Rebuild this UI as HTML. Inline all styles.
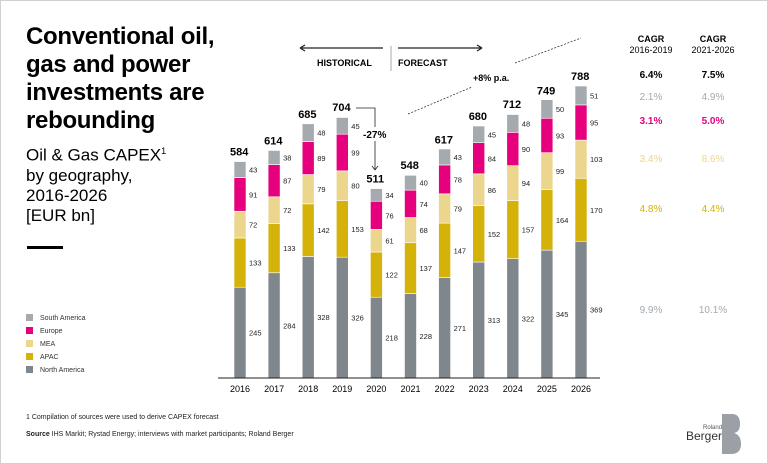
<!DOCTYPE html>
<html><head><meta charset="utf-8"><style>
body{margin:0;width:768px;height:464px;overflow:hidden;background:#fff;font-family:"Liberation Sans",sans-serif}
#frame{position:absolute;left:0;top:0;width:766px;height:462px;border:1px solid #cfd2d4}
.t{position:absolute;white-space:nowrap}
</style></head><body>
<div id="frame"></div>
<div class="t" style="left:26px;top:23px;font-size:24px;font-weight:bold;line-height:28px;letter-spacing:-0.3px;color:#000">Conventional oil,<br>gas and power<br>investments are<br>rebounding</div>
<div class="t" style="left:26px;top:141px;font-size:17px;line-height:20px;color:#000">Oil &amp; Gas CAPEX<sup style="font-size:9px">1</sup><br>by geography,<br>2016-2026<br>[EUR bn]</div>
<div style="position:absolute;left:27px;top:246px;width:36px;height:3px;background:#000"></div>
<svg id="c" width="768" height="464" style="position:absolute;left:0;top:0"></svg>
<div class="t" style="left:26px;top:414px;font-size:7px;color:#222">1 Compilation of sources were used to derive CAPEX forecast</div>
<div class="t" style="left:26px;top:431px;font-size:7px;color:#222"><b>Source</b> IHS Markit; Rystad Energy; interviews with market participants; Roland Berger</div>
<div class="t" style="left:686px;top:424px;font-size:6px;color:#555;text-align:right;line-height:8px">Roland<br><span style="font-size:12px;color:#333">Berger</span></div>
<svg width="20" height="40" style="position:absolute;left:722px;top:414px"><path d="M0 0 H10 Q18 0 18 10 Q18 18 12 19 Q19 21 19 30 Q19 40 9 40 H0 Z" fill="#9aa0a5"/></svg>
<script>
const years=["2016","2017","2018","2019","2020","2021","2022","2023","2024","2025","2026"];
const northAmerica=[245,284,328,326,218,228,271,313,322,345,369];
const apac=[133,133,142,153,122,137,147,152,157,164,170];
const mea=[72,72,79,80,61,68,79,86,94,99,103];
const europe=[91,87,89,99,76,74,78,84,90,93,95];
const southAmerica=[43,38,48,45,34,40,43,45,48,50,51];
const totals=[584,614,685,704,511,548,617,680,712,749,788];
const seriesNames=["North America","APAC","MEA","Europe","South America"];
const seriesColors=["#7f868c","#d4b20a","#ecd68e","#e6007e","#a4aaae"];
const cagrA=["6.4%","2.1%","3.1%","3.4%","4.8%","9.9%"];
const cagrB=["7.5%","4.9%","5.0%","8.6%","4.4%","10.1%"];
const NS="http://www.w3.org/2000/svg";
const svg=document.getElementById('c');
const base=378,k=292/788,x0=240,step=34.1,bw=12;
const xs=i=>x0+i*step, ys=v=>base-v*k;
function mk(t,a,txt){const e=document.createElementNS(NS,t);for(const n in a)e.setAttribute(n,a[n]);if(txt!=null)e.textContent=txt;svg.appendChild(e);return e;}
const series=[northAmerica,apac,mea,europe,southAmerica];
years.forEach((y,i)=>{
 let acc=0;
 series.forEach((s,j)=>{
  const y1=ys(acc+s[i]),y0=ys(acc);
  const r=mk('rect',{x:xs(i)-bw/2,y:y1,width:bw,height:y0-y1,fill:seriesColors[j],stroke:'#fff','stroke-width':0.6});
  
  
  const t=mk('text',{x:xs(i)+bw/2+3,y:(y1+y0)/2+3,'font-size':7.5,fill:'#222'},s[i]);
  
  
  acc+=s[i];
 });
 const tt=mk('text',{x:xs(i)-bw/2-4,y:ys(totals[i])-6,'font-size':11,'font-weight':'bold',fill:'#000'},totals[i]);
 
 
 const xl=mk('text',{x:xs(i),y:392,'font-size':9,'text-anchor':'middle',fill:'#000'},y);
 
 
});
const ax=mk('line',{x1:218,x2:600,y1:base,y2:base,stroke:'#222','stroke-width':1});


const legY=[320,333,346,359,372];
[4,3,2,1,0].forEach((j,n)=>{
 const r=mk('rect',{x:26,y:legY[n]-6,width:7,height:7,fill:seriesColors[j]});
 
 
 const t=mk('text',{x:40,y:legY[n],'font-size':7,fill:'#333'},seriesNames[j]);
 
 
});
mk('path',{d:'M300 48 H383 M300 48 l5 -3 M300 48 l5 3 M398 48 H482 M482 48 l-5 -3 M482 48 l-5 3',stroke:'#222','stroke-width':1.3,fill:'none'});
mk('line',{x1:391,x2:391,y1:46,y2:71,stroke:'#aaa','stroke-width':1});
mk('text',{x:317,y:66,'font-size':9,'font-weight':'bold'},'HISTORICAL');
mk('text',{x:398,y:66,'font-size':9,'font-weight':'bold'},'FORECAST');
mk('text',{x:473,y:81,'font-size':9,'font-weight':'bold'},'+8% p.a.');
mk('path',{d:'M408 114 L472 87 M515 63 L581 38',stroke:'#222','stroke-width':0.7,'stroke-dasharray':'2,1.5',fill:'none'});
mk('path',{d:'M356 108 H375 V170 M372 166 l3 4 l3 -4',stroke:'#222','stroke-width':0.8,fill:'none'});
mk('rect',{x:361,y:127,width:30,height:14,fill:'#fff'});
mk('text',{x:363,y:138,'font-size':10,'font-weight':'bold'},'-27%');
const cagrY=[78,100,124,162,212,313];
const cagrC=['#000','#a4aaae','#e6007e','#ecd68e','#d4b20a','#a4aaae'];
mk('text',{x:651,y:42,'font-size':9,'font-weight':'bold','text-anchor':'middle'},'CAGR');
mk('text',{x:651,y:53,'font-size':9,'text-anchor':'middle'},'2016-2019');
mk('text',{x:713,y:42,'font-size':9,'font-weight':'bold','text-anchor':'middle'},'CAGR');
mk('text',{x:713,y:53,'font-size':9,'text-anchor':'middle'},'2021-2026');
cagrY.forEach((y,n)=>{
 const a=mk('text',{x:651,y:y,'font-size':10,'text-anchor':'middle',fill:cagrC[n],'font-weight':(n==0||n==2)?'bold':'normal'},cagrA[n]);
 
 
 const b=mk('text',{x:713,y:y,'font-size':10,'text-anchor':'middle',fill:cagrC[n],'font-weight':(n==0||n==2)?'bold':'normal'},cagrB[n]);
 
 
});
</script>
</body></html>
